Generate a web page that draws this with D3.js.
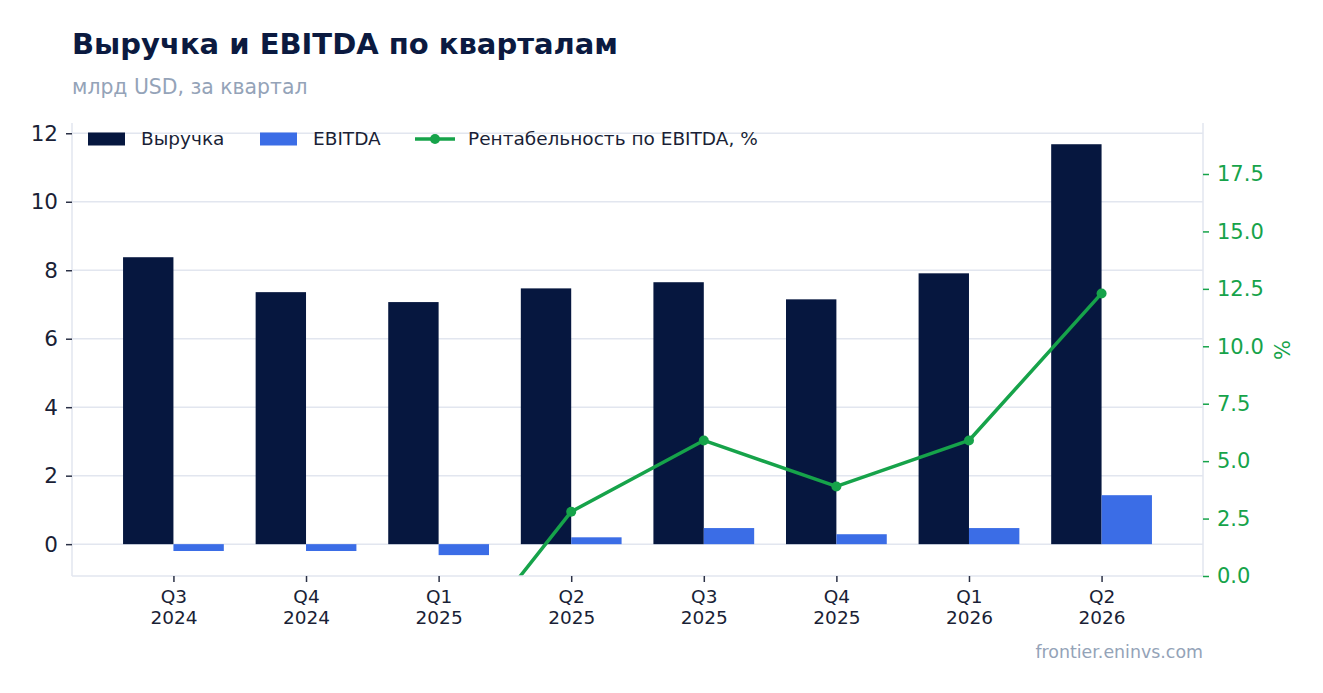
<!DOCTYPE html>
<html>
<head>
<meta charset="utf-8">
<script src="https://cdn.jsdelivr.net/npm/d3@7"></script>
<style>
  body { margin: 0; background: #fff; }
  text { font-family: "DejaVu Sans", sans-serif; }
</style>
</head>
<body>
<div id="chart"></div>
<script>
// Quarterly data, bn USD
const quarters = ['Q3|2024', 'Q4|2024', 'Q1|2025', 'Q2|2025', 'Q3|2025', 'Q4|2025', 'Q1|2026', 'Q2|2026'];
const revenue = [8.38, 7.36, 7.07, 7.47, 7.65, 7.15, 7.91, 11.68];
const ebitda = [-0.20, -0.20, -0.32, 0.20, 0.47, 0.29, 0.47, 1.43];
const margin = [-2.4, -2.7, -4.5, 2.8, 5.9, 3.9, 5.9, 12.3];
const leftTicks = [0, 2, 4, 6, 8, 10, 12];
const rightTicks = [0, 2.5, 5, 7.5, 10, 12.5, 15, 17.5];

const W = 1323, H = 693;
const margin_ = {top: 123, right: 120, bottom: 117, left: 72};
const width = W - margin_.left - margin_.right;
const height = H - margin_.top - margin_.bottom;

const colors = {
    revenue: '#06173f',
    ebitda: '#3b6de6',
    line: '#16a34a',
    grid: '#e2e6ef',
    text: '#1a1f36',
    muted: '#94a3b8'
};

const svg = d3.select('#chart').append('svg')
    .attr('width', W)
    .attr('height', H);

// Title block
svg.append('text')
    .attr('x', 72).attr('y', 54)
    .style('font-size', '29px').style('font-weight', 'bold')
    .style('fill', '#0b1a40')
    .text('Выручка и EBITDA по кварталам');

svg.append('text')
    .attr('x', 72).attr('y', 94)
    .style('font-size', '20.4px')
    .style('fill', colors.muted)
    .text('млрд USD, за квартал');

svg.append('text')
    .attr('x', 1203).attr('y', 658)
    .attr('text-anchor', 'end')
    .style('font-size', '17.4px')
    .style('fill', colors.muted)
    .text('frontier.eninvs.com');

const g = svg.append('g')
    .attr('transform', `translate(${margin_.left},${margin_.top})`);

// Scales
const x = d3.scalePoint()
    .domain(quarters)
    .range([0, width])
    .padding(0.765);
const step = x.step();
const barW = step * 0.38;

const y = d3.scaleLinear().domain([-0.93, 12.3]).range([height, 0]);
const y2 = d3.scaleLinear().domain([0, 19.72]).range([height, 0]);

// Grid
g.append('g')
    .selectAll('line')
    .data(leftTicks)
    .join('line')
    .attr('x1', 0).attr('x2', width)
    .attr('y1', d => y(d)).attr('y2', d => y(d))
    .attr('stroke', colors.grid)
    .attr('stroke-width', 1.5);

// Bars
g.append('g')
    .selectAll('rect')
    .data(quarters)
    .join('rect')
    .attr('x', d => x(d) - barW)
    .attr('y', (d, i) => y(revenue[i]))
    .attr('width', barW)
    .attr('height', (d, i) => y(0) - y(revenue[i]))
    .attr('fill', colors.revenue);

g.append('g')
    .selectAll('rect')
    .data(quarters)
    .join('rect')
    .attr('x', d => x(d))
    .attr('y', (d, i) => y(Math.max(0, ebitda[i])))
    .attr('width', barW)
    .attr('height', (d, i) => Math.abs(y(0) - y(ebitda[i])))
    .attr('fill', colors.ebitda);

// Margin line, clipped to the plot area
g.append('clipPath').attr('id', 'plotClip')
    .append('rect')
    .attr('x', 0).attr('y', 0)
    .attr('width', width).attr('height', height);

const lineGroup = g.append('g').attr('clip-path', 'url(#plotClip)');
const line = d3.line()
    .x((d, i) => x(quarters[i]))
    .y(d => y2(d));

lineGroup.append('path')
    .datum(margin)
    .attr('d', line)
    .attr('fill', 'none')
    .attr('stroke', colors.line)
    .attr('stroke-width', 3.5)
    .attr('stroke-linejoin', 'round');

lineGroup.selectAll('circle')
    .data(margin)
    .join('circle')
    .attr('cx', (d, i) => x(quarters[i]))
    .attr('cy', d => y2(d))
    .attr('r', 5)
    .attr('fill', colors.line);

// Axes
const leftAxis = g.append('g')
    .call(d3.axisLeft(y).tickValues(leftTicks).tickSize(6).tickPadding(8).tickFormat(d3.format('d')));
leftAxis.select('.domain').attr('stroke', colors.grid).attr('stroke-width', 1.5)
    .attr('d', `M0,${height}V0`);
leftAxis.selectAll('.tick line').attr('stroke', '#2b3146').attr('stroke-width', 1.5);
leftAxis.selectAll('.tick text').style('font-size', '21.5px').style('fill', colors.text)
    .style('font-family', '"DejaVu Sans", sans-serif');

const rightAxis = g.append('g')
    .attr('transform', `translate(${width},0)`)
    .call(d3.axisRight(y2).tickValues(rightTicks).tickSize(6).tickPadding(8).tickFormat(d3.format('.1f')));
rightAxis.select('.domain').attr('stroke', colors.grid).attr('stroke-width', 1.5)
    .attr('d', `M0,${height}V0`);
rightAxis.selectAll('.tick line').attr('stroke', colors.line).attr('stroke-width', 1.5);
rightAxis.selectAll('.tick text').style('font-size', '21px').style('fill', colors.line)
    .style('font-family', '"DejaVu Sans", sans-serif');

const bottomAxis = g.append('g')
    .attr('transform', `translate(0,${height})`)
    .call(d3.axisBottom(x).tickSize(6).tickPadding(8));
bottomAxis.select('.domain').attr('stroke', colors.grid).attr('stroke-width', 1.5)
    .attr('d', `M0,0H${width}`);
bottomAxis.selectAll('.tick line').attr('stroke', '#2b3146').attr('stroke-width', 1.5);
bottomAxis.selectAll('.tick text').each(function(d) {
    const parts = d.split('|');
    const t = d3.select(this).text(null)
        .style('font-size', '18.5px').style('fill', colors.text)
        .style('font-family', '"DejaVu Sans", sans-serif');
    t.append('tspan').attr('x', 0).attr('dy', '0.71em').text(parts[0]);
    t.append('tspan').attr('x', 0).attr('dy', '1.15em').text(parts[1]);
});

// Right axis label
svg.append('text')
    .attr('transform', `translate(1290,350) rotate(-90)`)
    .attr('text-anchor', 'middle')
    .style('font-size', '21px')
    .style('fill', colors.line)
    .text('%');

// Legend
const legend = svg.append('g').attr('transform', 'translate(88,139)');
const legendItems = [
    {label: 'Выручка', type: 'rect', color: colors.revenue, x: 0},
    {label: 'EBITDA', type: 'rect', color: colors.ebitda, x: 172},
    {label: 'Рентабельность по EBITDA, %', type: 'line', color: colors.line, x: 327}
];
legendItems.forEach(item => {
    const li = legend.append('g').attr('transform', `translate(${item.x},0)`);
    if (item.type === 'rect') {
        li.append('rect').attr('x', 0).attr('y', -6.5).attr('width', 37).attr('height', 13).attr('fill', item.color);
    } else {
        li.append('line').attr('x1', 0).attr('x2', 40).attr('y1', 0).attr('y2', 0)
            .attr('stroke', item.color).attr('stroke-width', 3.5);
        li.append('circle').attr('cx', 20).attr('cy', 0).attr('r', 5).attr('fill', item.color);
    }
    li.append('text')
        .attr('x', 53)
        .attr('y', 0).attr('dy', '0.35em')
        .style('font-size', '18.5px').style('fill', colors.text)
        .text(item.label);
});
</script>
</body>
</html>
